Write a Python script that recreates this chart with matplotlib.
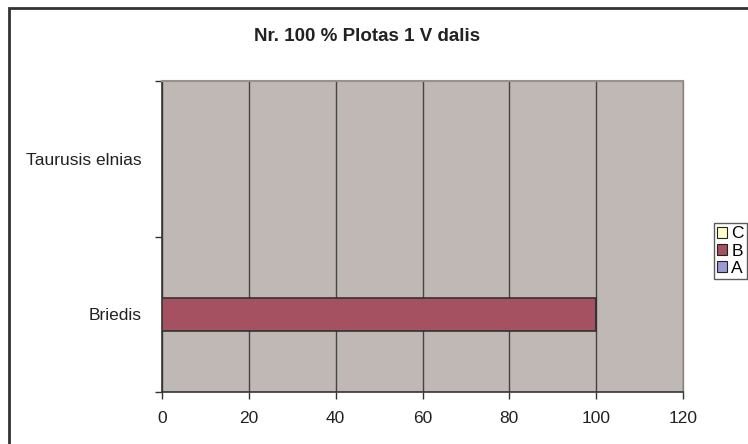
import matplotlib.pyplot as plt
import matplotlib.patches as mpatches
import numpy as np

plt.rcParams['font.family'] = ['Liberation Sans', 'DejaVu Sans']

categories = ['Briedis', 'Taurusis elnias']
series_names = ['A', 'B', 'C']
series_values = {
    'A': [0, 0],
    'B': [100, 0],
    'C': [0, 0],
}
series_colors = {'A': '#9c9ad6', 'B': '#a55162', 'C': '#fffdcc'}
x_ticks = [0, 20, 40, 60, 80, 100, 120]

W, H = 748, 444
fig = plt.figure(figsize=(W / 100, H / 100), dpi=100)
ax = fig.add_axes([162 / W, 1 - 392 / H, (683 - 162) / W, (392 - 81) / H])
ax.set_facecolor('#c0b8b5')

y = np.arange(len(categories))
left = np.zeros(len(categories))
for name in series_names:
    vals = np.array(series_values[name], dtype=float)
    ax.barh(y, vals, left=left, height=0.21, color=series_colors[name],
            edgecolor='#333333', linewidth=1.2, zorder=3)
    left += vals

ax.set_xlim(0, 120)
ax.set_ylim(-0.5, len(categories) - 0.5)
ax.set_xticks(x_ticks)
ax.set_xticklabels([str(t) for t in x_ticks], fontsize=12.5, color='#222222')
ax.set_yticks([-0.5, 0.5, 1.5])
ax.set_yticklabels([])
ax.set_yticks(y, minor=True)
ax.set_yticklabels(categories, minor=True, fontsize=12.5, color='#222222')
ax.tick_params(axis='y', which='minor', length=0, pad=15)
ax.tick_params(axis='y', which='major', length=5, width=1, color='#333333')
ax.tick_params(axis='x', length=5, width=1, color='#333333', pad=9)
ax.grid(axis='x', color='#444444', linewidth=1, zorder=1)

for s in ['left', 'bottom']:
    ax.spines[s].set_color('#333333')
    ax.spines[s].set_linewidth(1.2)
ax.spines['top'].set_color('#9a908c')
ax.spines['top'].set_linewidth(1.5)
ax.spines['right'].set_color('#8c8480')
ax.spines['right'].set_linewidth(1)

fig.text(367 / W, 1 - 36 / H, 'Nr. 100 % Plotas 1 V dalis', ha='center', va='center',
         fontsize=13.5, fontweight='bold', color='#222222')

# legend (reversed order like the original)
handles = [mpatches.Patch(facecolor=series_colors[n], edgecolor='#222222', linewidth=0.8, label=n)
           for n in reversed(series_names)]
leg = fig.legend(handles=handles, loc='upper left', bbox_to_anchor=(714 / W, 1 - 223 / H),
                 fontsize=12.5, frameon=True, fancybox=False, handlelength=0.55, handleheight=0.55,
                 handletextpad=0.25, labelspacing=0.12, borderpad=0.2, borderaxespad=0)
leg.get_frame().set_edgecolor('#333333')
leg.get_frame().set_linewidth(1)

# outer chart border (runs off the right and bottom edges)
border = mpatches.Rectangle((9 / W, -0.05), 1.1, 1 - 8 / H + 0.05, transform=fig.transFigure,
                            fill=False, edgecolor='#333333', linewidth=2, clip_on=False)
fig.patches.append(border)

fig.savefig('out.png', dpi=100)
